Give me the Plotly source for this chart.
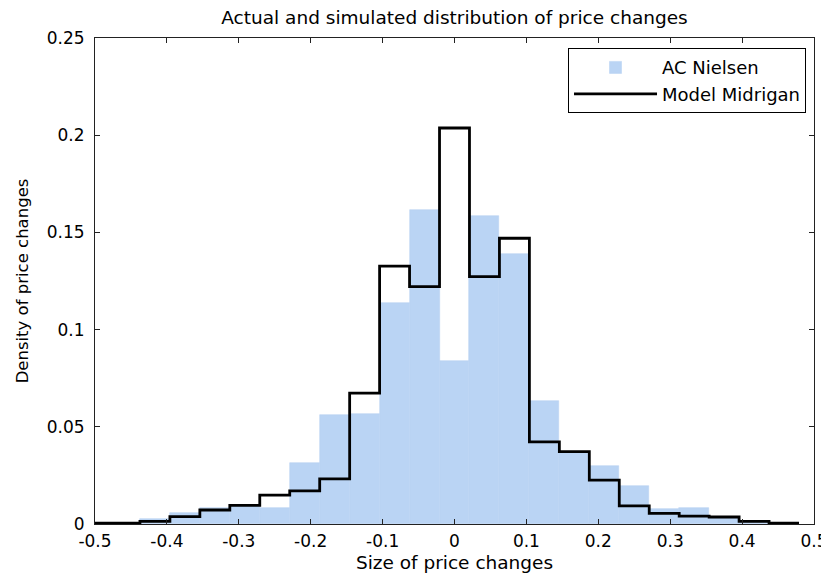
import plotly.graph_objects as go

# Bin centres (bin width 1/24) for -11/24 ... 11/24
bin_centers = [-0.458333, -0.416667, -0.375, -0.333333, -0.291667, -0.25, -0.208333, -0.166667,
               -0.125, -0.083333, -0.041667, 0.0, 0.041667, 0.083333, 0.125, 0.166667,
               0.208333, 0.25, 0.291667, 0.333333, 0.375, 0.416667, 0.458333]
bin_width = 1 / 24

ac_nielsen = [0.0005, 0.0025, 0.0055, 0.0080, 0.0100, 0.0084, 0.0315, 0.0560,
              0.0564, 0.1138, 0.1615, 0.0840, 0.1584, 0.1389, 0.0633, 0.0365,
              0.0298, 0.0195, 0.0077, 0.0082, 0.0030, 0.0010, 0.0003]

model_midrigan = [0.0004, 0.0014, 0.0038, 0.0072, 0.0096, 0.0149, 0.0170, 0.0232,
                  0.0673, 0.1327, 0.1221, 0.2037, 0.1272, 0.1470, 0.0422, 0.0372,
                  0.0226, 0.0093, 0.0055, 0.0040, 0.0036, 0.0014, 0.0004]

x_range = [-0.5, 0.5]
y_range = [0, 0.25]
x_ticks = [-0.5, -0.4, -0.3, -0.2, -0.1, 0, 0.1, 0.2, 0.3, 0.4, 0.5]
x_ticklabels = ["-0.5", "-0.4", "-0.3", "-0.2", "-0.1", "0", "0.1", "0.2", "0.3", "0.4", "0.5"]
y_ticks = [0, 0.05, 0.1, 0.15, 0.2, 0.25]
y_ticklabels = ["0", "0.05", "0.1", "0.15", "0.2", "0.25"]

# step line: left edges of each bin, plus final right edge
step_x = [x_range[0]] + [c - bin_width / 2 for c in bin_centers[1:]] + [bin_centers[-1] + bin_width / 2]
step_y = list(model_midrigan) + [model_midrigan[-1]]

font = "DejaVu Sans, Verdana, sans-serif"
bar_color = "#bad4f4"

fig = go.Figure()
fig.add_trace(go.Bar(
    x=bin_centers, y=ac_nielsen, width=bin_width,
    marker=dict(color=bar_color, line=dict(width=0.6, color=bar_color)),
    name="AC Nielsen",
))
fig.add_trace(go.Scatter(
    x=step_x, y=step_y, mode="lines", line=dict(color="black", width=2.8, shape="hv"),
    name="Model Midrigan",
))

axis_common = dict(
    showline=True, linecolor="#222", linewidth=1, mirror="ticks",
    ticks="inside", ticklen=5, tickcolor="#222", showgrid=False, zeroline=False,
    tickfont=dict(family=font, size=17, color="black"), automargin=False,
)
fig.update_xaxes(range=x_range, tickvals=x_ticks, ticktext=x_ticklabels, ticklabelstandoff=2,
                 title=dict(text="Size of price changes", font=dict(family=font, size=18.5, color="black"), standoff=5),
                 **axis_common)
fig.update_yaxes(range=y_range, tickvals=y_ticks, ticktext=y_ticklabels, ticklabelstandoff=6,
                 title=dict(text="Density of price changes", font=dict(family=font, size=16.5, color="black"), standoff=13),
                 **axis_common)

fig.update_layout(
    width=829, height=578,
    margin=dict(l=87, r=23, t=30, b=62),
    paper_bgcolor="white", plot_bgcolor="white",
    title=dict(text="Actual and simulated distribution of price changes",
               font=dict(family=font, size=18.5, color="black"),
               x=0.5, xref="paper", xanchor="center", y=1.0, yref="container", yanchor="top",
               pad=dict(t=3)),
    bargap=0,
    showlegend=True,
    legend=dict(x=0.9889, y=0.979, xanchor="right", yanchor="top",
                bordercolor="black", borderwidth=1, bgcolor="white",
                font=dict(family=font, size=18, color="black"),
                itemwidth=83, tracegroupgap=0),
)

fig.write_html("out.html")
